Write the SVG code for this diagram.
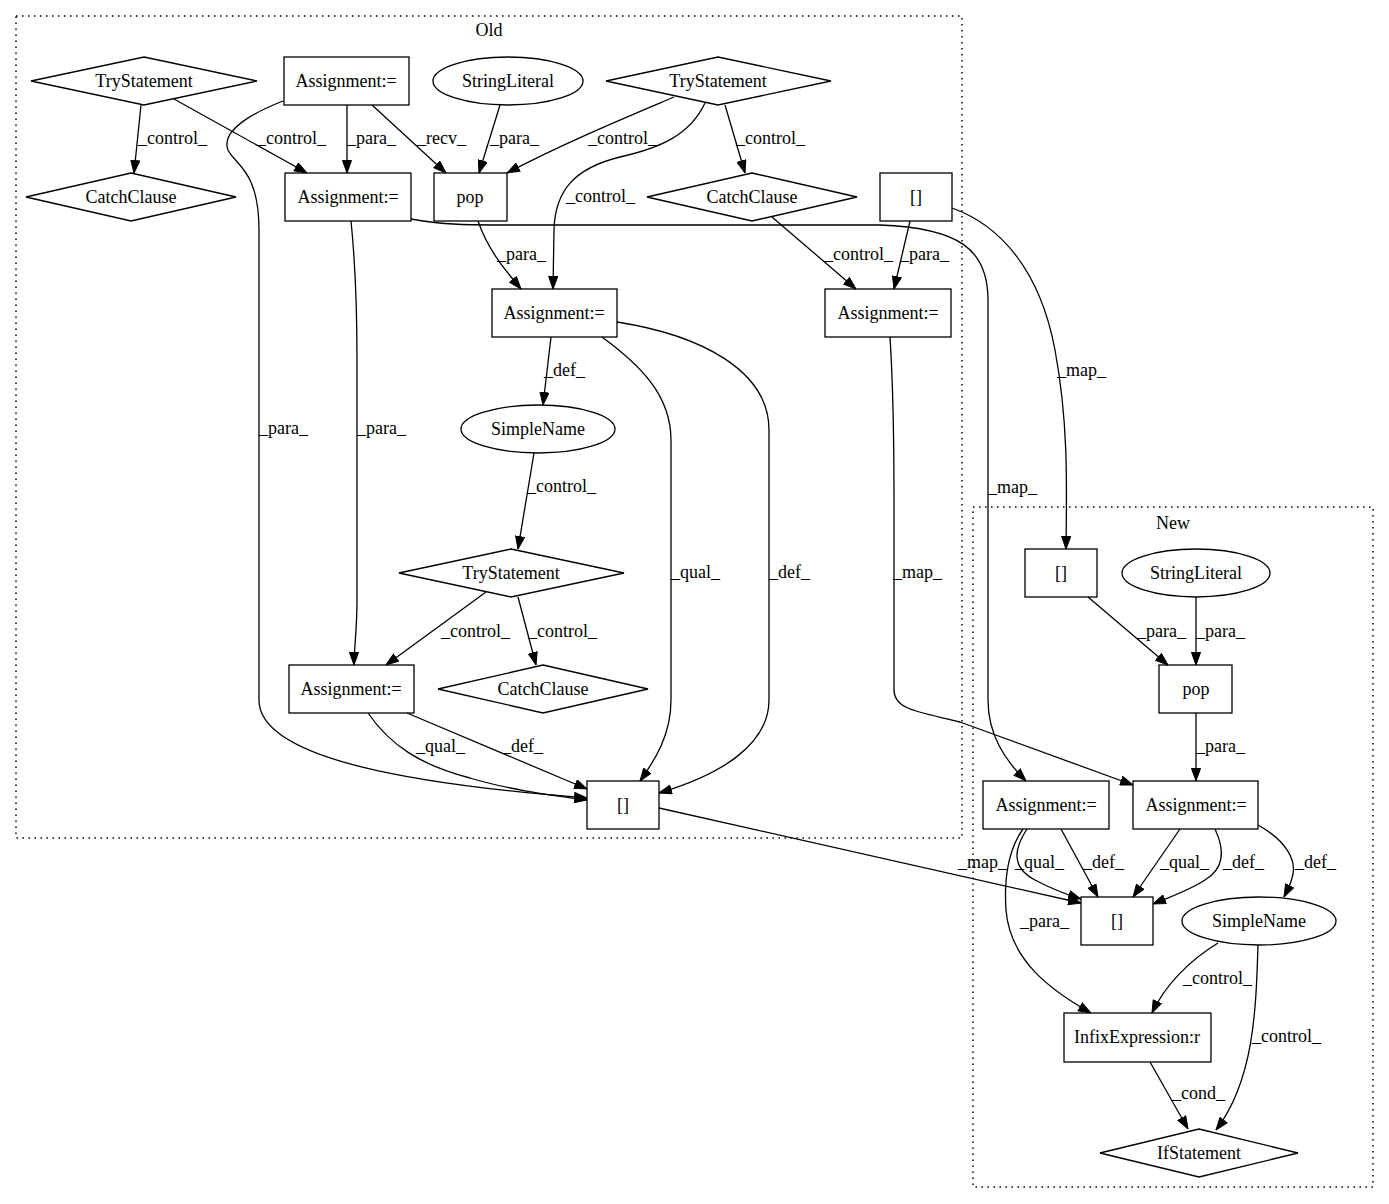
<svg xmlns="http://www.w3.org/2000/svg" width="1389" height="1204" viewBox="0 0 1389 1204">
<defs>
<marker id="ah" markerWidth="13" markerHeight="10" refX="13" refY="5" orient="auto" markerUnits="userSpaceOnUse">
<path d="M0.5,0.5 L13,5 L0.5,9.5 z" fill="#000" stroke="#000" stroke-width="1"/>
</marker>
<style>
text{font-family:"Liberation Serif","Times New Roman",serif;font-size:18px;fill:#000}
.n{text-anchor:middle}
.shape{fill:none;stroke:#000;stroke-width:1.3}
.cl{fill:none;stroke:#000;stroke-width:1.5;stroke-dasharray:1.5,4.5}
.e{fill:none;stroke:#000;stroke-width:1.3;marker-end:url(#ah)}
</style>
</defs>
<rect width="1389" height="1204" fill="#fff"/>
<g id="cluster_old"><rect class="cl" x="16" y="16" width="946" height="822"/><text class="n" x="489" y="36">Old</text></g>
<g id="cluster_new"><rect class="cl" x="973" y="507" width="400" height="680"/><text class="n" x="1173" y="529">New</text></g>

<g id="edges">
<path class="e" d="M141,105 L134,173"/>
<path class="e" d="M174,99 L307,173"/>
<path class="e" d="M347,105 L347,173"/>
<path class="e" d="M372,105 L446,173"/>
<path class="e" d="M500,105 L479,173"/>
<path class="e" d="M674,97 C620,120 560,145 507,173"/>
<path class="e" d="M705,103 C690,135 660,148 620,157 C575,168 555,190 554,230 L553,289"/>
<path class="e" d="M725,105 L745,173"/>
<path class="e" d="M283,101 C255,112 220,130 228,150 C235,165 259,170 259,230 L259,700 C259,760 420,785 587,798"/>
<path class="e" d="M351,221 C355,260 357,300 357,360 L357,600 C357,630 354,650 354,665"/>
<path class="e" d="M411,219 C440,225 470,225 520,225 L880,225 C960,228 988,250 988,300 L988,700 C988,735 1005,760 1026,781"/>
<path class="e" d="M772,217 L856,289"/>
<path class="e" d="M910,221 L894,289"/>
<path class="e" d="M952,208 C1000,225 1040,270 1055,350 C1068,420 1067,480 1066,549"/>
<path class="e" d="M478,221 C488,250 505,270 521,289"/>
<path class="e" d="M551,337 L543,405"/>
<path class="e" d="M602,337 C640,365 671,395 671,440 L671,700 C671,735 655,760 640,781"/>
<path class="e" d="M617,322 C700,335 769,370 769,430 L769,700 C769,745 720,775 659,793"/>
<path class="e" d="M534,453 L518,549"/>
<path class="e" d="M486,592 L386,665"/>
<path class="e" d="M518,597 L536,665"/>
<path class="e" d="M368,713 C390,745 420,765 470,778 C510,790 550,795 587,800"/>
<path class="e" d="M407,713 L587,789"/>
<path class="e" d="M659,808 L1081,903"/>
<path class="e" d="M890,337 C894,400 894,450 894,500 L894,690 C894,710 920,712 960,722 L1133,785"/>
<path class="e" d="M1088,597 L1168,665"/>
<path class="e" d="M1196,597 L1196,665"/>
<path class="e" d="M1196,713 L1196,781"/>
<path class="e" d="M1027,829 C1013,850 1012,868 1035,880 C1050,888 1065,894 1081,899"/>
<path class="e" d="M1061,829 L1098,897"/>
<path class="e" d="M1023,829 C1008,850 1004,880 1006,910 C1010,960 1050,990 1091,1013"/>
<path class="e" d="M1180,829 L1133,897"/>
<path class="e" d="M1215,829 C1225,850 1225,868 1205,880 C1190,890 1170,897 1153,904"/>
<path class="e" d="M1258,825 C1285,840 1298,860 1292,878 C1290,886 1287,891 1284,897"/>
<path class="e" d="M1218,943 C1190,960 1165,985 1152,1013"/>
<path class="e" d="M1258,945 C1256,1010 1254,1080 1216,1130"/>
<path class="e" d="M1150,1062 L1188,1129"/>
<text x="138" y="144">_control_</text>
<text x="257" y="144">_control_</text>
<text x="347" y="144">_para_</text>
<text x="417" y="144">_recv_</text>
<text x="490" y="144">_para_</text>
<text x="588" y="144">_control_</text>
<text x="736" y="144">_control_</text>
<text x="566" y="202">_control_</text>
<text x="497" y="260">_para_</text>
<text x="824" y="260">_control_</text>
<text x="900" y="260">_para_</text>
<text x="1057" y="376">_map_</text>
<text x="259" y="434">_para_</text>
<text x="357" y="434">_para_</text>
<text x="544" y="376">_def_</text>
<text x="527" y="492">_control_</text>
<text x="671" y="578">_qual_</text>
<text x="769" y="578">_def_</text>
<text x="441" y="637">_control_</text>
<text x="528" y="637">_control_</text>
<text x="416" y="752">_qual_</text>
<text x="502" y="752">_def_</text>
<text x="988" y="493">_map_</text>
<text x="893" y="578">_map_</text>
<text x="958" y="868">_map_</text>
<text x="1137" y="637">_para_</text>
<text x="1196" y="637">_para_</text>
<text x="1196" y="752">_para_</text>
<text x="1015" y="868">_qual_</text>
<text x="1083" y="868">_def_</text>
<text x="1160" y="868">_qual_</text>
<text x="1223" y="868">_def_</text>
<text x="1295" y="868">_def_</text>
<text x="1020" y="927">_para_</text>
<text x="1183" y="984">_control_</text>
<text x="1252" y="1042">_control_</text>
<text x="1172" y="1099">_cond_</text>
</g>

<g id="try1"><polygon class="shape" points="144,57 257,81 144,105 31,81"/><text class="n" x="144" y="87">TryStatement</text></g>
<g id="catch1"><polygon class="shape" points="131,173 236,197 131,221 26,197"/><text class="n" x="131" y="203">CatchClause</text></g>
<g id="assign1"><rect class="shape" x="284" y="57" width="125" height="48"/><text class="n" x="346" y="87">Assignment:=</text></g>
<g id="assign2"><rect class="shape" x="285" y="173" width="126" height="48"/><text class="n" x="348" y="203">Assignment:=</text></g>
<g id="strlit1"><ellipse class="shape" cx="508" cy="81" rx="75" ry="24"/><text class="n" x="508" y="87">StringLiteral</text></g>
<g id="pop1"><rect class="shape" x="434" y="173" width="73" height="48"/><text class="n" x="470" y="203">pop</text></g>
<g id="try2"><polygon class="shape" points="718,57 831,81 718,105 606,81"/><text class="n" x="718" y="87">TryStatement</text></g>
<g id="catch2"><polygon class="shape" points="752,173 857,197 752,221 647,197"/><text class="n" x="752" y="203">CatchClause</text></g>
<g id="idx_old_top"><rect class="shape" x="880" y="173" width="72" height="48"/><text class="n" x="916" y="203">[]</text></g>
<g id="assign3"><rect class="shape" x="492" y="289" width="125" height="48"/><text class="n" x="554" y="319">Assignment:=</text></g>
<g id="assign5"><rect class="shape" x="825" y="289" width="126" height="48"/><text class="n" x="888" y="319">Assignment:=</text></g>
<g id="simplename1"><ellipse class="shape" cx="538" cy="429" rx="77" ry="24"/><text class="n" x="538" y="435">SimpleName</text></g>
<g id="try3"><polygon class="shape" points="511,549 624,573 511,597 399,573"/><text class="n" x="511" y="579">TryStatement</text></g>
<g id="assign4"><rect class="shape" x="289" y="665" width="125" height="48"/><text class="n" x="351" y="695">Assignment:=</text></g>
<g id="catch3"><polygon class="shape" points="543,665 648,689 543,713 438,689"/><text class="n" x="543" y="695">CatchClause</text></g>
<g id="idx_old"><rect class="shape" x="587" y="781" width="72" height="48"/><text class="n" x="623" y="811">[]</text></g>

<g id="idx_new1"><rect class="shape" x="1025" y="549" width="72" height="48"/><text class="n" x="1061" y="579">[]</text></g>
<g id="strlit2"><ellipse class="shape" cx="1196" cy="573" rx="74" ry="24"/><text class="n" x="1196" y="579">StringLiteral</text></g>
<g id="pop2"><rect class="shape" x="1159" y="665" width="73" height="48"/><text class="n" x="1196" y="695">pop</text></g>
<g id="assign_new1"><rect class="shape" x="983" y="781" width="126" height="48"/><text class="n" x="1046" y="811">Assignment:=</text></g>
<g id="assign_new2"><rect class="shape" x="1133" y="781" width="125" height="48"/><text class="n" x="1196" y="811">Assignment:=</text></g>
<g id="idx_new"><rect class="shape" x="1081" y="897" width="72" height="48"/><text class="n" x="1117" y="927">[]</text></g>
<g id="simplename2"><ellipse class="shape" cx="1259" cy="921" rx="77" ry="24"/><text class="n" x="1259" y="927">SimpleName</text></g>
<g id="infix"><rect class="shape" x="1064" y="1013" width="147" height="49"/><text class="n" x="1137" y="1043">InfixExpression:r</text></g>
<g id="ifstmt"><polygon class="shape" points="1199,1129 1298,1153 1199,1177 1100,1153"/><text class="n" x="1199" y="1159">IfStatement</text></g>
</svg>
